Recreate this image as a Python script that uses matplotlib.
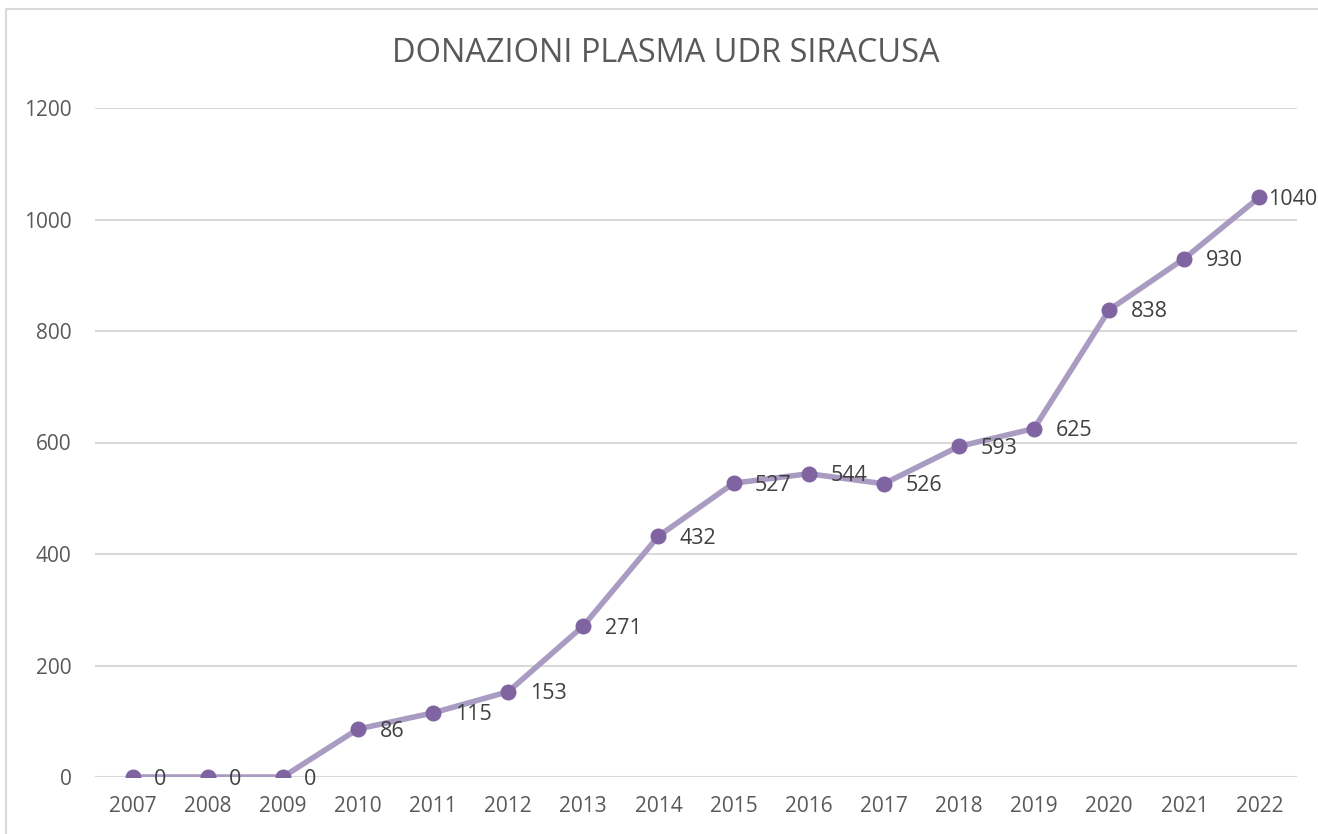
import matplotlib
matplotlib.use('Agg')
import matplotlib.pyplot as plt
from matplotlib.patches import Rectangle

plt.rcParams['font.family'] = ['Open Sans', 'DejaVu Sans']

years = ['2007', '2008', '2009', '2010', '2011', '2012', '2013', '2014',
         '2015', '2016', '2017', '2018', '2019', '2020', '2021', '2022']
donations = [0, 0, 0, 86, 115, 153, 271, 432, 527, 544, 526, 593, 625, 838, 930, 1040]
y_ticks = [0, 200, 400, 600, 800, 1000, 1200]
title = 'DONAZIONI PLASMA UDR SIRACUSA'

fig = plt.figure(figsize=(13.18, 8.34), dpi=100)
ax = fig.add_axes([95 / 1318, 57 / 834, 1202 / 1318, 669 / 834])

# chart border (only top and left visible in the crop)
fig.patches.append(Rectangle((6 / 1318, -0.1), 1.2, 0.1 + (834 - 9) / 834,
                             transform=fig.transFigure, fill=False,
                             edgecolor='#D9D9D9', linewidth=1.5))

x = list(range(len(years)))
ax.plot(x, donations, color='#A99BC2', linewidth=4, zorder=3,
        solid_capstyle='round')
ax.plot(x, donations, linestyle='none', marker='o', markersize=10.5,
        color='#8064A2', zorder=4)

for i, v in enumerate(donations):
    dx = 6.5 if i == len(donations) - 1 else 15.5
    ax.annotate(str(v), (i, v), xytext=(dx, -1.5), textcoords='offset points',
                ha='left', va='center', fontsize=15.5, color='#404040',
                zorder=5)

ax.set_xlim(-0.5, len(years) - 0.5)
ax.set_ylim(0, 1200)
ax.set_xticks(x)
ax.set_xticklabels(years)
ax.set_yticks(y_ticks)
ax.tick_params(axis='both', length=0, labelsize=15, labelcolor='#595959')
ax.tick_params(axis='y', pad=17)
ax.tick_params(axis='x', pad=14)
ax.grid(axis='y', color='#D9D9D9', linewidth=1.5)
ax.set_axisbelow(True)
for s in ax.spines.values():
    s.set_visible(False)

fig.text(666 / 1318, 1 - 53 / 834, title, ha='center', va='center',
         fontsize=23.4, color='#595959')

fig.savefig('out.png', dpi=100)
